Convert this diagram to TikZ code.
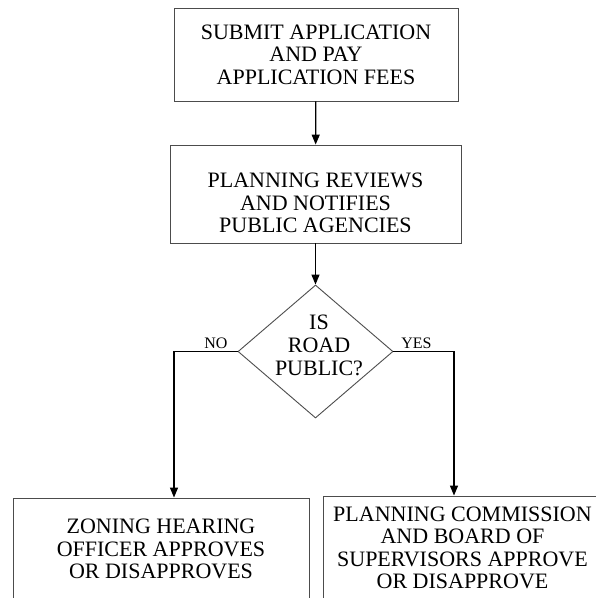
\documentclass[tikz,border=0pt]{standalone}
\usepackage{fontspec}
\setmainfont{Liberation Serif}
\usetikzlibrary{positioning, shapes.geometric, arrows.meta}

\begin{document}
\begin{tikzpicture}[x=1pt, y=-1pt,
    box/.style={rectangle, draw=black!70, line width=0.9pt, align=center, inner sep=0pt, font=\fontsize{22}{22.5}\selectfont},
    decision/.style={diamond, draw=black!70, line width=0.9pt, inner sep=0pt, minimum width=155pt, minimum height=133pt},
    arr/.style={line width=1.3pt, -{Triangle[length=10pt, width=8pt]}},
    lbl/.style={font=\fontsize{16}{16}\selectfont, inner sep=2pt}]
  \clip (0,0) rectangle (596,598);

  \node[box, minimum width=284pt, minimum height=93pt] (submit) at (316,54.5) {SUBMIT APPLICATION\\AND PAY\\APPLICATION FEES};
  \node[box, minimum width=291pt, minimum height=98pt] (review) at (315.5,194) {\rule{0pt}{33pt}PLANNING REVIEWS\\AND NOTIFIES\\PUBLIC AGENCIES};
  \node[decision] (road) at (315.5,351.5) {};
  \node[align=center, inner sep=0pt, font=\fontsize{22}{23}\selectfont] (roadtext) at (319,345) {IS\\ROAD\\PUBLIC?};
  \node[box, minimum width=296pt, minimum height=102pt] (zoning) at (161,549) {ZONING HEARING\\OFFICER APPROVES\\OR DISAPPROVES};
  \node[box, minimum width=279pt, minimum height=104pt] (board) at (462.5,548) {PLANNING COMMISSION\\AND BOARD OF\\SUPERVISORS APPROVE\\OR DISAPPROVE};

  \draw[arr] (submit) -- (review);
  \draw[arr] (review) -- (road);
  \draw[arr] (road.west) -| node[lbl, pos=0.17, above] (no) {NO} ([xshift=13pt]zoning.north);
  \draw[arr] (road.east) -| node[lbl, pos=0.19, above] (yes) {YES} ([xshift=-8.5pt]board.north);
\end{tikzpicture}
\end{document}
